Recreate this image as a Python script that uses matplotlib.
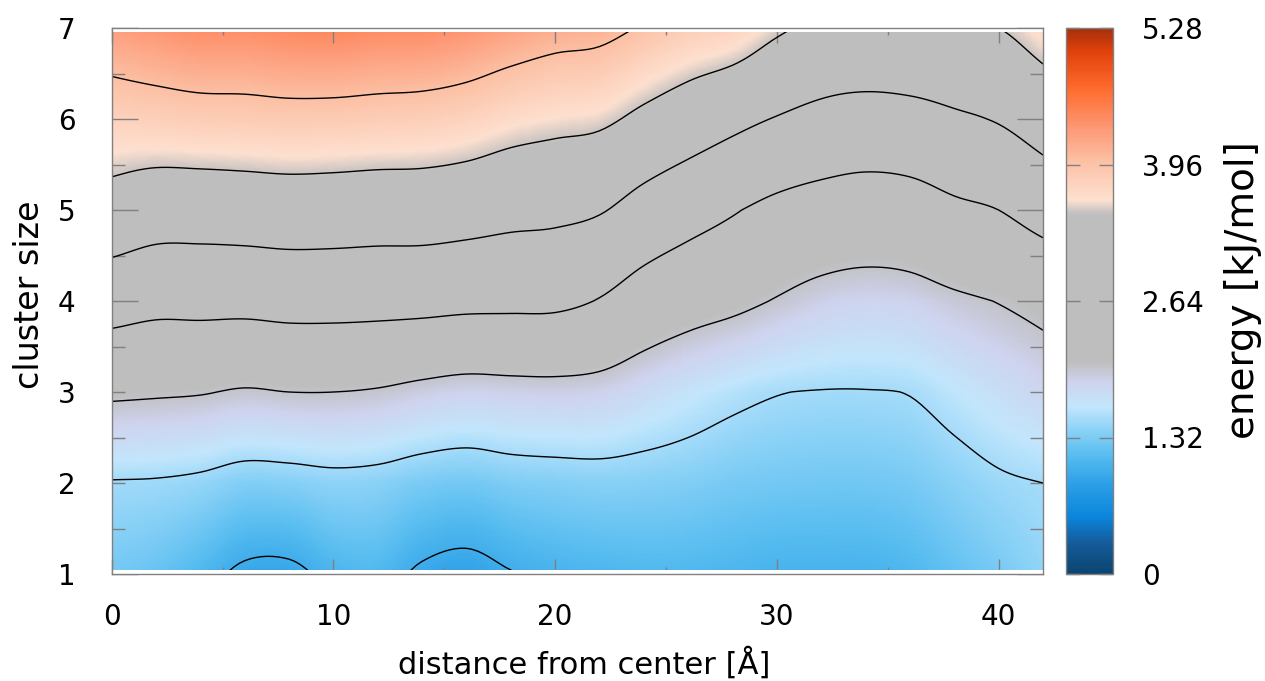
import numpy as np
import matplotlib
matplotlib.use('agg')
import matplotlib.pyplot as plt
import matplotlib.colors as col

# distance from center [A] (columns) and cluster size (rows)
distance = [0, 2, 4, 6, 8, 10, 12, 14, 16, 18, 20,
            22, 24, 26, 28, 30, 32, 34, 36, 38, 40, 42]
cluster_size = [1, 2, 3, 4, 5, 6, 7]

# energy [kJ/mol], one list per cluster size
energy_size1 = [1.28, 1.22, 1.10, 0.94, 0.93, 1.07, 1.10, 0.95, 0.89, 0.985, 1.05,
                1.08, 1.10, 1.10, 1.08, 1.05, 1.05, 1.05, 1.10, 1.20, 1.30, 1.42]
energy_size2 = [1.48, 1.47, 1.43, 1.35, 1.36, 1.40, 1.38, 1.31, 1.28, 1.33, 1.35,
                1.37, 1.36, 1.34, 1.30, 1.28, 1.27, 1.27, 1.30, 1.38, 1.46, 1.50]
energy_size3 = [2.06, 2.04, 2.02, 1.97, 2.00, 2.00, 1.97, 1.90, 1.85, 1.87, 1.88,
                1.86, 1.76, 1.66, 1.57, 1.51, 1.49, 1.49, 1.51, 1.61, 1.71, 1.81]
energy_size4 = [2.69, 2.62, 2.63, 2.63, 2.66, 2.66, 2.65, 2.64, 2.61, 2.60, 2.59,
                2.48, 2.29, 2.17, 2.09, 1.98, 1.88, 1.84, 1.86, 1.94, 2.01, 2.09]
energy_size5 = [3.34, 3.23, 3.22, 3.24, 3.26, 3.25, 3.23, 3.23, 3.19, 3.13, 3.10,
                3.03, 2.83, 2.67, 2.53, 2.39, 2.31, 2.27, 2.30, 2.42, 2.50, 2.68]
energy_size6 = [3.78, 3.81, 3.84, 3.85, 3.87, 3.86, 3.84, 3.82, 3.77, 3.67, 3.61,
                3.57, 3.41, 3.26, 3.11, 2.98, 2.88, 2.82, 2.85, 2.94, 3.03, 3.21]
energy_size7 = [4.25, 4.33, 4.40, 4.40, 4.44, 4.46, 4.42, 4.41, 4.34, 4.24, 4.15,
                4.11, 3.97, 3.84, 3.77, 3.56, 3.42, 3.42, 3.44, 3.46, 3.50, 3.69]

contour_levels = [1.0, 1.5, 2.0, 2.5, 3.0, 3.5, 4.0]
cbar_ticks = [0, 1.32, 2.64, 3.96, 5.28]
cbar_labels = ["0", "1.32", "2.64", "3.96", "5.28"]
emax = 5.28

table = np.array([energy_size1, energy_size2, energy_size3, energy_size4,
                  energy_size5, energy_size6, energy_size7])


def smooth_x(xs, z, n=8):
    # cubic (catmull-rom) resampling along x, like pm3d interpolate
    xs = np.asarray(xs, float)
    step = xs[1] - xs[0]
    xf = np.linspace(xs[0], xs[-1], (len(xs) - 1) * n + 1)
    p = np.hstack([2 * z[:, :1] - z[:, 1:2], z, 2 * z[:, -1:] - z[:, -2:-1]])
    idx = np.minimum(((xf - xs[0]) / step).astype(int), len(xs) - 2)
    t = (xf - xs[idx]) / step
    p0, p1, p2, p3 = p[:, idx], p[:, idx + 1], p[:, idx + 2], p[:, idx + 3]
    zf = 0.5 * (2 * p1 + (p2 - p0) * t + (2 * p0 - 5 * p1 + 4 * p2 - p3) * t ** 2
                + (3 * p1 - p0 - 3 * p2 + p3) * t ** 3)
    return xf, zf


def refine_y(ys, z, n=50):
    # linear resampling between the cluster sizes so the colour follows the value
    yf = np.linspace(ys[0], ys[-1], (len(ys) - 1) * n + 1)
    zf = np.array([np.interp(yf, ys, z[:, j]) for j in range(z.shape[1])]).T
    return yf, zf


# blue - grey - red palette like the gnuplot one
nodes = [(0.00, "#0c4470"), (0.30, "#145c9a"), (0.55, "#0a86dc"),
         (0.85, "#2a9ee6"), (1.15, "#58bdf0"), (1.40, "#8ed3f7"),
         (1.62, "#c2e6fc"), (1.85, "#cfd3ee"), (2.05, "#bebebe"),
         (3.48, "#bebebe"), (3.62, "#fde0d0"), (4.00, "#fcc0a4"),
         (4.30, "#fd9a78"), (4.70, "#fe6b2c"), (5.05, "#e2420c"),
         (5.28, "#a5300b")]
my_cmap = col.LinearSegmentedColormap.from_list(
    "energy", [(v / emax, c) for v, c in nodes], N=512)

W, H = 1265.0, 681.0
fig = plt.figure(figsize=(W / 100, H / 100), dpi=100)
ax = fig.add_axes([111.7 / W, 1 - 574 / H, 931.3 / W, 546 / H])
cax = fig.add_axes([1066 / W, 1 - 574 / H, 47 / W, 546 / H])

xf, zx = smooth_x(distance, table)
yf, zf = refine_y(cluster_size, zx)
X, Y = np.meshgrid(xf, yf)
mesh = ax.pcolormesh(X, Y, zf, cmap=my_cmap, vmin=0, vmax=emax,
                     shading="gouraud", rasterized=True)
ax.contour(X, Y, zf, levels=contour_levels, colors="black",
           linewidths=1.0)

# thin white gap at the top/bottom edge of the map
ax.axhspan(1.0, 1.04, color="white", zorder=3, lw=0)
ax.axhspan(6.96, 7.0, color="white", zorder=3, lw=0)

ax.set_xlim(0, 42)
ax.set_ylim(1, 7)
ax.set_xticks([0, 10, 20, 30, 40])
ax.set_xticks([5, 15, 25, 35], minor=True)
ax.set_yticks([1, 2, 3, 4, 5, 6, 7])
ax.set_yticks([1.5, 2.5, 3.5, 4.5, 5.5, 6.5], minor=True)

gray = "#808080"
ax.tick_params(which="both", direction="in", top=True, right=True,
               color=gray, width=1, labelsize=20)
ax.tick_params(axis="x", which="major", length=10.8, pad=21)
ax.tick_params(axis="x", which="minor", length=5)
ax.tick_params(axis="y", which="major", length=18.7, pad=26)
ax.tick_params(axis="y", which="minor", length=9.4)
for t, v in zip(ax.yaxis.get_major_ticks(), [1, 2, 3, 4, 5, 6, 7]):
    if v in (2, 3):
        t.tick1line.set_markersize(9.4)
        t.tick2line.set_markersize(9.4)
for s in ax.spines.values():
    s.set_color(gray)
    s.set_linewidth(1)
    s.set_zorder(4)

ax.set_xlabel("distance from center [Å]", fontsize=22, va="center")
ax.xaxis.set_label_coords(0.507, -0.163)
ax.set_ylabel("cluster size", fontsize=24, va="center")
ax.yaxis.set_label_coords(-0.088, 0.511)

cbar = fig.colorbar(mesh, cax=cax, ticks=cbar_ticks)
cbar.ax.set_yticklabels(cbar_labels)
cbar.outline.set_edgecolor(gray)
cbar.outline.set_linewidth(1)
cax.tick_params(axis="y", direction="in", left=True, right=True,
                length=10, width=1, color=gray, labelsize=20, pad=21)
cax.set_ylabel("energy [kJ/mol]", fontsize=28, va="center")
cax.yaxis.set_label_coords(3.77, 0.52)

plt.savefig("out.png", dpi=100)
plt.close("all")
